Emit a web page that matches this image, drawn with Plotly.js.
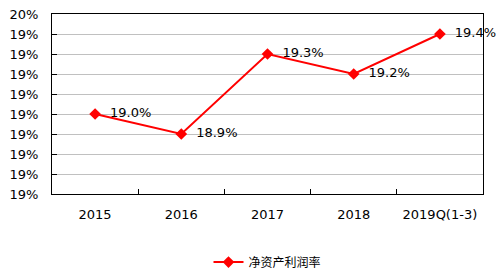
<!DOCTYPE html>
<html><head><meta charset="utf-8">
<script src="https://cdn.plot.ly/plotly-3.0.1.min.js"></script>
<style>html,body{margin:0;padding:0;background:#fff}#c{width:497px;height:274px}</style>
</head><body><div id="c"></div>
<script>
const categories = ['2015','2016','2017','2018','2019Q(1-3)'];
const roe = [19.0, 18.9, 19.3, 19.2, 19.4];
const labels = ['19.0%','18.9%','19.3%','19.2%','19.4%'];
const yTickVals = [18.6,18.7,18.8,18.9,19.0,19.1,19.2,19.3,19.4,19.5];
const yTickText = ['19%','19%','19%','19%','19%','19%','19%','19%','19%','20%'];
const seriesName = '净资产利润率';

const font = 'DejaVu Sans, Verdana, Noto Sans CJK SC, sans-serif';
Plotly.newPlot('c', [{
  x: categories, y: roe, type: 'scatter', mode: 'lines+markers+text',
  name: seriesName,
  text: labels.map(s => '  ' + s), textposition: 'middle right',
  textfont: {family: font, size: 13, color: '#000'},
  line: {color: '#FF0000', width: 2},
  marker: {symbol: 'diamond', size: 9, color: '#FF0000'},
  cliponaxis: false
}], {
  width: 497, height: 274,
  margin: {l: 52, r: 14, t: 14, b: 80, autoexpand: false},
  paper_bgcolor: '#fff', plot_bgcolor: '#fff',
  font: {family: font, size: 13, color: '#000'},
  showlegend: true,
  legend: {orientation: 'h', x: 0.5, xanchor: 'center', y: -0.378, yanchor: 'middle',
           font: {family: font, size: 12}},
  xaxis: {type: 'category', range: [-0.5, 4.5], showline: true, linecolor: '#000', linewidth: 1, mirror: true,
          ticks: 'inside', ticklen: 5, tickcolor: '#000', tickson: 'boundaries',
          showgrid: false, ticklabelstandoff: 8, zeroline: false, automargin: false,
          tickfont: {family: font, size: 13}},
  yaxis: {range: [18.6, 19.5], tickvals: yTickVals, ticktext: yTickText,
          showline: true, linecolor: '#000', linewidth: 1, mirror: true,
          ticks: 'inside', ticklen: 5, tickcolor: '#000', automargin: false,
          showgrid: true, gridcolor: '#C0C0C0', gridwidth: 1, zeroline: false,
          ticklabelstandoff: 10, tickfont: {family: font, size: 13}}
}, {displayModeBar: false, staticPlot: true});
</script></body></html>
